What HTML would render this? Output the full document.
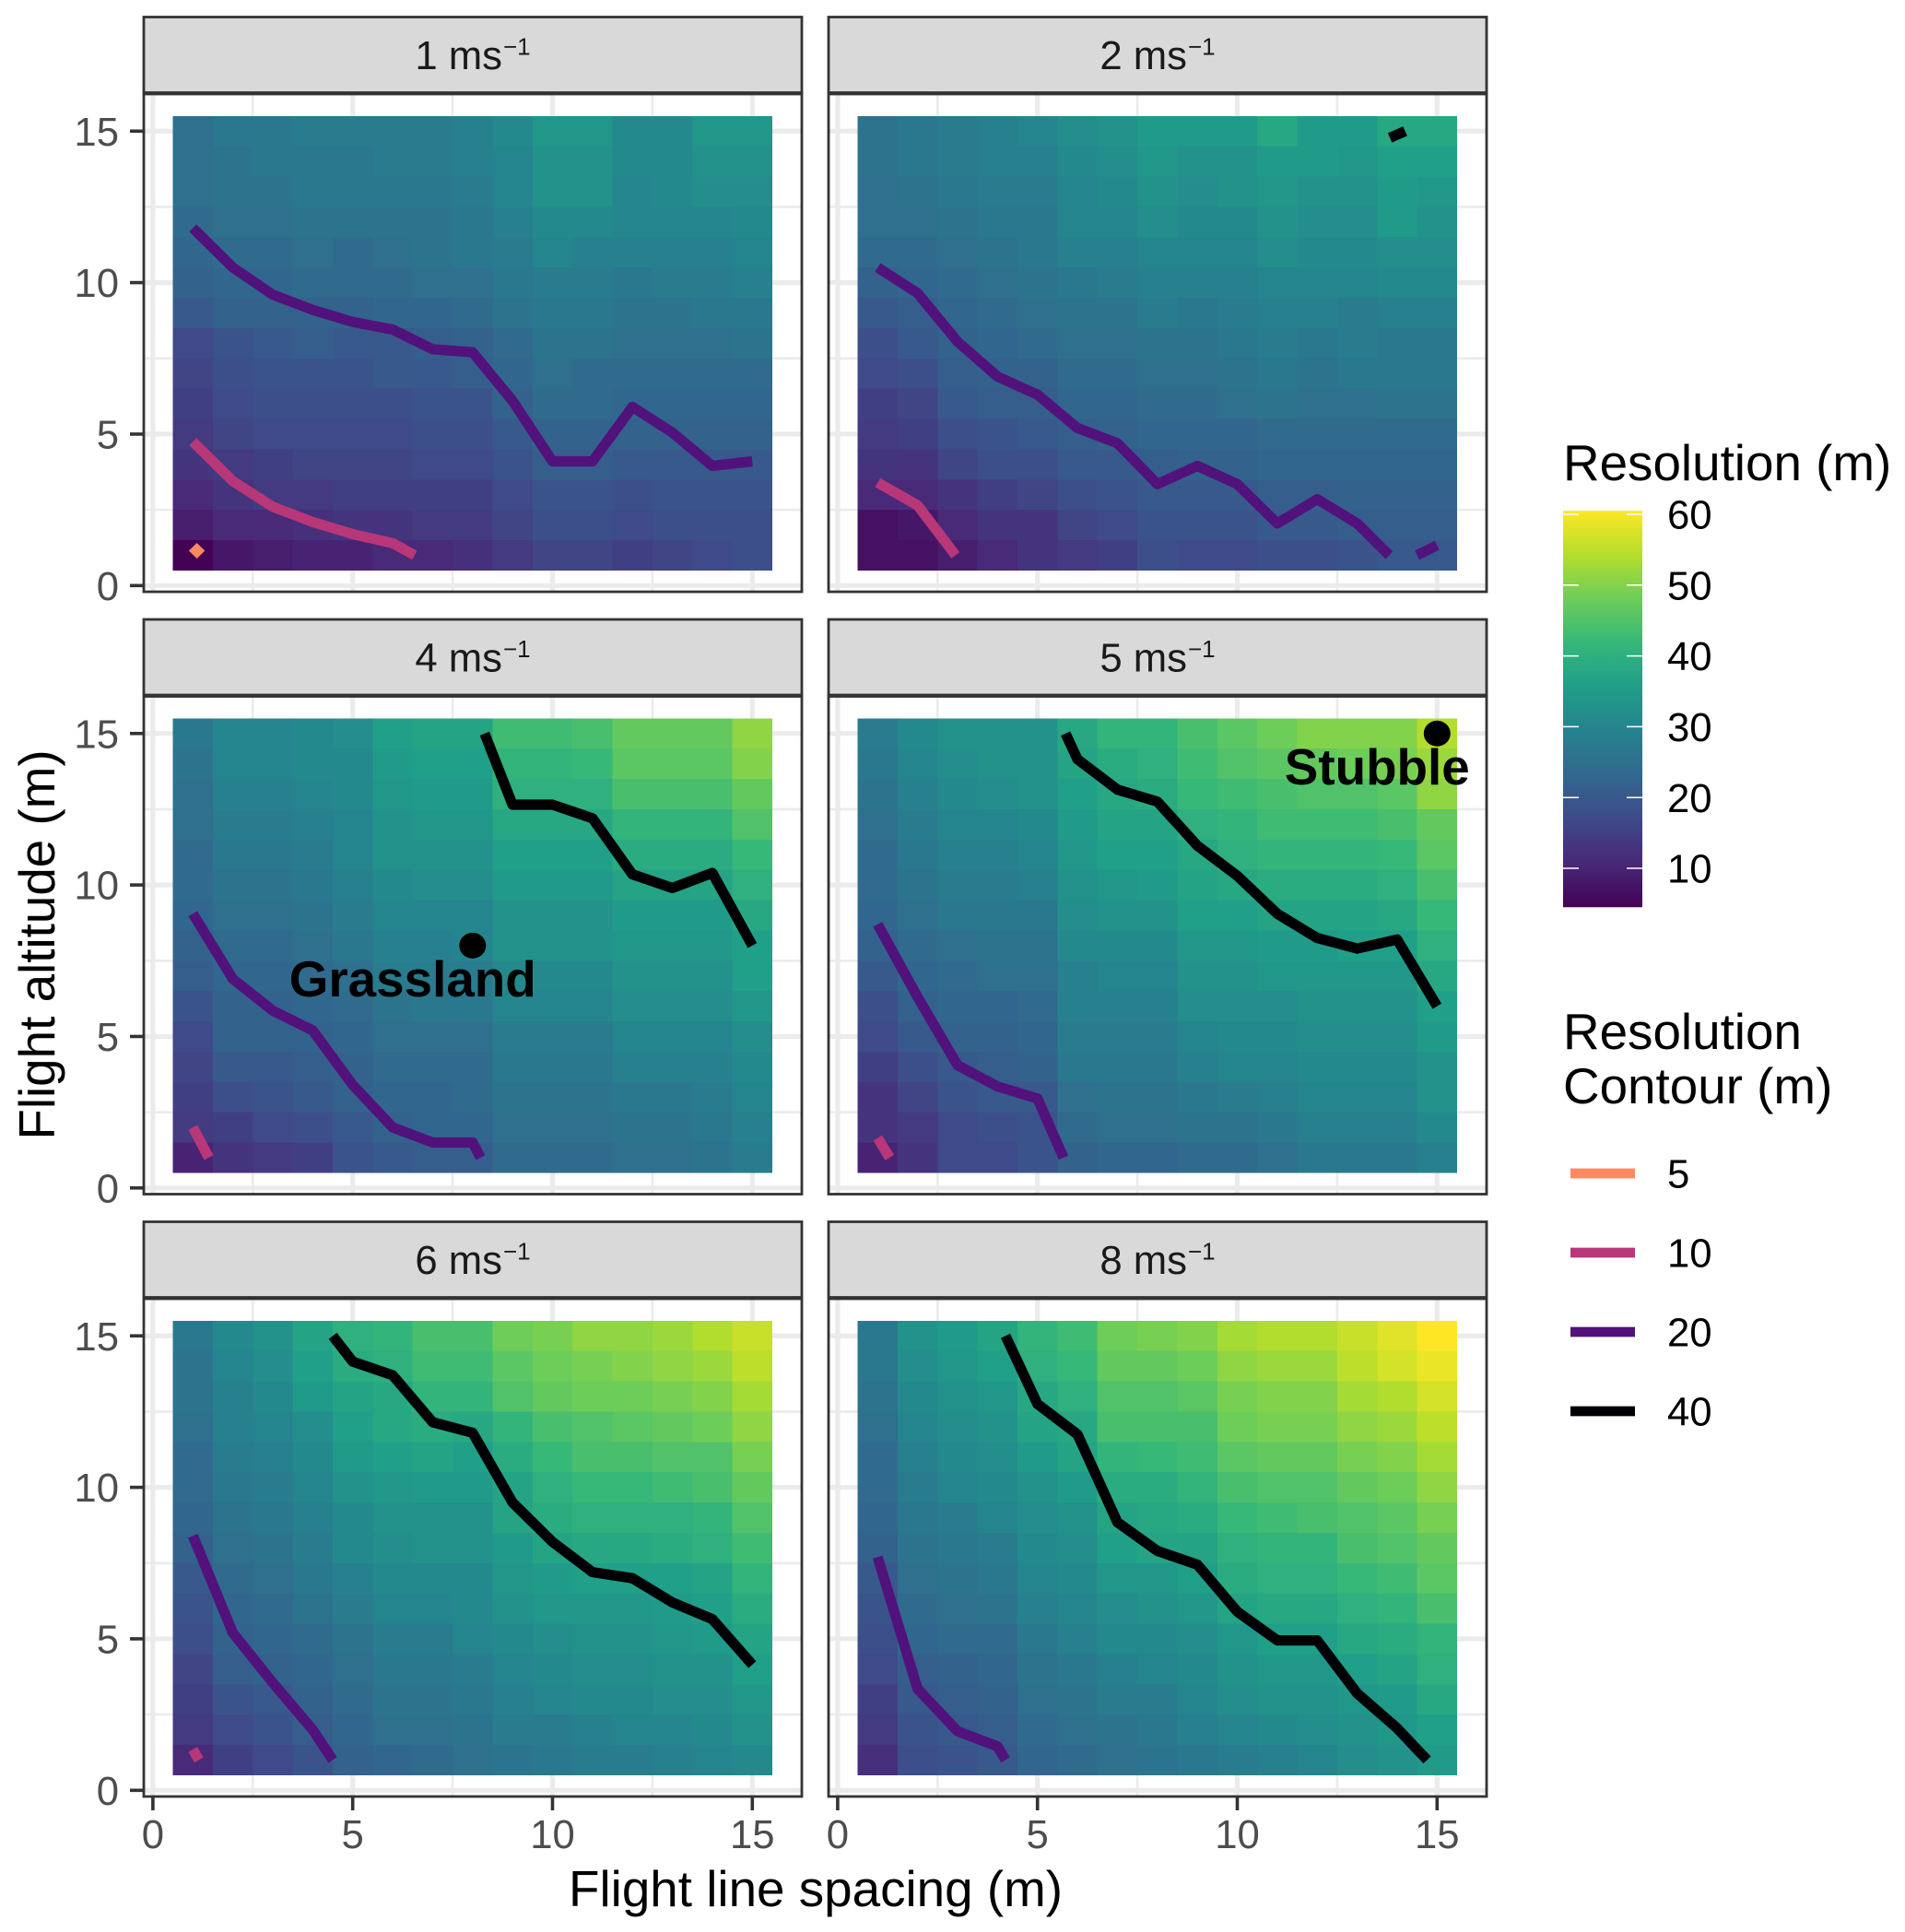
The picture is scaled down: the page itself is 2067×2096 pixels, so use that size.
<!DOCTYPE html>
<html lang="en">
<head>
<meta charset="utf-8">
<title>Resolution by flight line spacing and altitude</title>
<style>
html,body{margin:0;padding:0;background:#fff;}
svg{display:block;font-family:"Liberation Sans",Arial,sans-serif;}
</style>
</head>
<body>
<svg id="chart" xmlns="http://www.w3.org/2000/svg" width="2067" height="2096" viewBox="0 0 2067 2096">
  <defs>
    <linearGradient id="viridis-gradient" x1="0" y1="1" x2="0" y2="0">
      <stop offset="0" stop-color="#440154"/><stop offset="0.111" stop-color="#482878"/>
      <stop offset="0.222" stop-color="#3E4A89"/><stop offset="0.333" stop-color="#31688E"/>
      <stop offset="0.444" stop-color="#26828E"/><stop offset="0.556" stop-color="#1F9E89"/>
      <stop offset="0.667" stop-color="#35B779"/><stop offset="0.778" stop-color="#6DCD59"/>
      <stop offset="0.889" stop-color="#B4DE2C"/><stop offset="1" stop-color="#FDE725"/>
    </linearGradient>
  </defs>
  <text x="885" y="2068" font-size="54.8" text-anchor="middle" fill="#000">Flight line spacing (m)</text>
  <text transform="translate(59 1025) rotate(-90)" font-size="54.8" text-anchor="middle" fill="#000">Flight altitude (m)</text>
  <text x="1696" y="521" font-size="54.8" fill="#000">Resolution (m)</text>
  <text x="1696" y="1138" font-size="54.8" fill="#000">Resolution</text>
  <text x="1696" y="1197" font-size="54.8" fill="#000">Contour (m)</text>
</svg>
<script>
// ---------- chart data ----------
const windSpeeds = ['1', '2', '4', '5', '6', '8'];
const spacingTicks = [0, 5, 10, 15];
const altitudeTicks = [0, 5, 10, 15];
const minorBreaks = [2.5, 7.5, 12.5];
const spacings = [1,2,3,4,5,6,7,8,9,10,11,12,13,14,15];
const altitudesTopDown = [15,14,13,12,11,10,9,8,7,6,5,4,3,2,1];
const colorbarTicks = [10, 20, 30, 40, 50, 60];
const colorLimits = [4.5, 60.5];
const contourLevels = ['5', '10', '20', '40'];

const resolution1 = [
[25,27,27,28,28,28,28,29,31,34,34,31,31,34,34],
[25,26,27,27,27,28,28,29,30,33,33,31,31,33,33],
[25,26,26,27,27,27,27,28,30,33,33,30,31,32,32],
[24,25,25,26,26,26,26,27,29,31,31,30,30,30,31],
[23,24,24,25,24,25,26,27,28,30,29,29,29,29,30],
[22,23,23,24,24,24,25,25,27,28,28,27,28,28,29],
[20,22,22,22,22,23,23,24,26,27,27,26,26,27,27],
[17,19,20,21,20,20,21,22,24,26,26,25,25,25,26],
[16,18,19,19,19,20,20,21,23,25,24,24,24,24,24],
[15,17,18,18,18,18,19,19,22,24,24,23,23,23,23],
[14,16,17,17,17,17,18,18,20,22,22,22,22,22,22],
[13,14,15,16,16,16,17,17,19,21,21,20,20,20,20],
[11,13,14,14,15,15,15,15,17,19,19,18,19,19,19],
[9,11,11,12,13,13,14,14,16,18,18,17,18,18,18],
[4.6,8,9,10,10,11,11,12,14,16,16,15,16,17,18]];
const resolution2 = [
[26,27,28,29,30,32,33,35,35,35,38,35,35,38,38],
[26,27,28,29,29,31,32,34,33,33,35,35,34,36,36],
[25,26,27,28,28,30,31,33,32,33,34,33,33,35,34],
[25,25,26,27,27,30,30,32,31,31,33,32,32,35,33],
[24,24,25,26,27,29,29,30,30,30,32,31,31,32,32],
[22,23,24,25,26,27,28,29,29,29,30,30,30,31,31],
[20,21,23,24,25,26,26,28,27,28,29,29,28,29,29],
[18,20,22,23,24,25,25,26,26,27,28,27,28,27,27],
[17,18,21,22,22,24,24,25,25,26,27,26,27,27,27],
[15,16,20,21,21,23,23,24,24,25,26,25,25,26,26],
[14,15,18,19,20,21,22,23,23,23,24,24,24,24,24],
[13,13,16,18,18,20,20,21,22,22,23,23,23,23,23],
[11,11,13,15,16,18,19,20,20,20,21,21,22,22,22],
[7,8,11,13,13,16,17,19,19,19,20,20,21,21,21],
[7,7,9,11,13,14,15,18,17,17,18,18,19,20,20]];
const resolution4 = [
[27,30,30,31,32,36,37,37,43,43,44,47,47,47,51],
[26,30,30,31,31,35,36,36,41,41,42,46,46,46,50],
[25,29,29,30,31,34,35,35,40,40,40,44,44,44,47],
[25,28,28,29,30,33,34,34,38,38,38,41,41,41,45],
[24,27,27,28,30,33,33,33,36,36,36,39,39,39,42],
[24,26,26,27,29,31,32,32,35,35,35,37,37,37,40],
[23,25,25,26,28,30,30,30,33,33,33,35,35,35,38],
[22,24,24,25,27,29,29,30,33,33,33,34,34,34,36],
[21,23,23,24,25,28,28,28,31,31,31,33,33,33,36],
[19,22,22,23,24,26,27,27,30,30,30,32,32,32,34],
[17,22,22,22,23,25,25,25,28,28,28,30,30,30,32],
[16,20,20,21,22,24,24,24,27,27,27,29,29,29,31],
[15,18,19,20,22,23,23,24,26,26,26,27,27,28,30],
[14,15,17,18,20,22,23,23,25,25,25,26,26,27,29],
[10,13,14,15,19,20,21,21,24,24,24,25,25,26,28]];
const resolution5 = [
[28,31,33,33,33,38,41,41,44,46,48,50,50,50,54],
[27,30,32,33,33,37,39,40,43,45,46,47,48,49,52],
[26,29,31,32,33,36,38,39,42,43,44,45,45,46,51],
[25,28,30,30,31,35,37,37,40,41,43,43,43,44,47],
[24,27,29,29,30,34,36,36,38,40,41,41,41,42,46],
[24,26,28,28,29,33,34,35,37,38,39,39,39,40,44],
[23,25,27,27,27,32,33,33,36,36,37,37,37,38,42],
[22,24,25,26,26,31,31,31,34,34,35,35,36,36,40],
[20,23,24,25,25,29,30,30,33,33,34,34,34,34,38],
[18,22,23,23,24,29,29,29,32,32,32,33,33,33,36],
[17,20,22,22,23,28,28,28,30,31,31,32,32,32,35],
[15,18,20,21,22,27,27,27,29,30,30,31,31,31,33],
[13,16,19,20,20,25,26,26,27,28,29,30,30,30,33],
[13,14,17,18,19,24,25,25,26,26,27,29,29,29,31],
[10,13,17,17,19,22,23,23,24,24,25,27,27,27,29]];
const resolution6 = [
[27,31,33,37,40,41,44,44,48,49,51,51,52,54,56],
[26,30,32,36,39,40,43,43,46,48,49,50,51,52,55],
[26,29,31,35,37,38,41,41,45,47,48,48,49,50,53],
[25,29,30,32,36,38,39,38,41,44,45,46,47,48,51],
[24,28,29,31,35,36,37,36,39,42,44,44,45,45,49],
[24,27,28,30,33,34,35,35,37,40,42,42,43,44,47],
[23,26,27,29,31,33,33,33,37,39,40,40,40,41,45],
[22,25,26,28,31,32,33,33,35,37,38,38,39,40,43],
[20,24,25,27,29,31,31,31,34,35,36,36,36,37,41],
[19,23,24,26,28,30,30,31,33,34,34,34,35,36,39],
[18,22,23,24,26,28,28,30,31,32,33,33,34,35,37],
[16,21,22,23,25,27,27,28,30,31,32,32,33,33,36],
[15,19,20,22,24,26,26,27,29,30,31,31,32,32,34],
[14,17,19,21,23,25,25,26,28,28,29,30,30,31,33],
[11,15,17,19,22,23,24,25,26,27,28,28,29,30,31]];
const resolution8 = [
[27,33,35,37,41,43,48,49,50,53,54,54,56,58,60.5],
[27,32,34,36,40,42,47,47,48,51,52,52,55,57,59],
[26,31,33,34,38,40,45,45,46,49,50,50,53,54,57],
[25,30,32,33,37,38,44,44,44,48,49,49,51,52,55],
[24,29,31,32,35,37,41,42,43,46,47,47,49,50,53],
[24,28,30,31,33,35,39,39,41,44,45,45,47,48,51],
[23,27,28,30,32,33,37,38,39,42,43,44,45,46,49],
[22,26,27,28,31,32,36,37,37,40,41,41,44,45,47],
[20,25,26,27,30,31,34,34,36,39,40,40,42,43,46],
[19,24,25,26,29,30,32,33,34,37,38,38,40,41,44],
[18,23,24,24,27,29,31,31,32,34,36,36,38,39,41],
[17,21,22,23,26,27,29,30,31,33,34,34,36,37,40],
[15,20,21,22,25,26,28,28,30,32,33,33,34,35,38],
[14,19,20,21,24,25,26,27,29,30,31,32,33,34,36],
[12,18,19,20,23,24,25,26,27,28,29,30,32,33,35]];
const resolutionBySpeed = [resolution1, resolution2, resolution4, resolution5, resolution6, resolution8];

// contours: [level, [[spacing, altitude], ...]]
const contours1 = [
 ['10',[[1,4.75],[2,3.45],[3,2.6],[4,2.1],[5,1.7],[6,1.4],[6.55,1]]],
 ['20',[[1,11.8],[2,10.5],[3,9.6],[4,9.1],[5,8.7],[6,8.45],[7,7.8],[8,7.7],[9,6.1],[10,4.1],[11,4.1],[12,5.9],[13,5.05],[14,3.95],[15,4.1]]]];
const contours2 = [
 ['10',[[1,3.4],[2,2.65],[2.95,1]]],
 ['20',[[1,10.5],[2,9.65],[3,8.05],[4,6.9],[5,6.3],[6,5.2],[7,4.7],[8,3.35],[9,3.95],[10,3.35],[11,2.05],[12,2.85],[13,2.05],[13.8,1]]],
 ['20',[[14.5,1],[15,1.33]]],
 ['40',[[13.82,14.78],[14.2,15]]]];
const contours4 = [
 ['10',[[1,2],[1.4,1]]],
 ['20',[[1,9.05],[2,6.9],[3,5.85],[4,5.2],[5,3.4],[6,2],[7,1.5],[8,1.5],[8.2,1]]],
 ['40',[[8.3,15],[9,12.65],[10,12.65],[11,12.2],[12,10.35],[13,9.9],[14,10.4],[15,8]]]];
const contours5 = [
 ['10',[[1,1.65],[1.3,1]]],
 ['20',[[1,8.7],[2,6.3],[3,4.05],[4,3.35],[5,2.95],[5.65,1]]],
 ['40',[[5.7,15],[6,14.15],[7,13.15],[8,12.75],[9,11.3],[10,10.3],[11,9.05],[12,8.25],[13,7.9],[14,8.2],[15,6]]]];
const contours6 = [
 ['10',[[1,1.35],[1.15,1]]],
 ['20',[[1,8.4],[2,5.2],[3,3.55],[4,2],[4.5,1]]],
 ['40',[[4.5,15],[5,14.15],[6,13.7],[7,12.15],[8,11.8],[9,9.5],[10,8.2],[11,7.2],[12,7],[13,6.2],[14,5.65],[15,4.15]]]];
const contours8 = [
 ['20',[[1,7.7],[2,3.35],[3,1.95],[4,1.45],[4.2,1]]],
 ['40',[[4.2,15],[5,12.75],[6,11.75],[7,8.85],[8,7.9],[9,7.45],[10,5.9],[11,4.95],[12,4.95],[13,3.2],[14,2.05],[14.75,1]]]];
const contoursBySpeed = [contours1, contours2, contours4, contours5, contours6, contours8];
const fiveMetreContour = [[1.1,1.41],[1.3,1.15],[1.1,0.89],[0.9,1.15]];

// annotated sites: panel index, spacing, altitude, label, label spacing, label altitude
const siteLabels = ['Grassland', 'Stubble'];
const sitePanels = [2, 3];
const siteSpacing = [8, 15];
const siteAltitude = [8, 15];
const siteLabelSpacing = [6.5, 13.5];
const siteLabelAltitude = [7, 14];

// ---------- layout and scales ----------
const SVGNS = 'http://www.w3.org/2000/svg';
const svg = document.getElementById('chart');
const columnLeft = [156, 899];
const rowTop = [18.5, 672, 1325.5];
const panelWidth = 714;
const stripHeight = 82;
const panelHeight = 623.5;
const contourColors = {'5':'#FC8961', '10':'#B73779', '20':'#51127C', '40':'#000004'};
const viridisStops = ['#440154','#482878','#3E4A89','#31688E','#26828E','#1F9E89','#35B779','#6DCD59','#B4DE2C','#FDE725'];

function xScale(col, v) { return columnLeft[col] + 9.9 + v * 43.36; }
function yScale(row, v) { return rowTop[row] + 616.8 - v * 32.87; }
function legendY(v) { return 942 - (v - 10) * 7.68; }
function make(tag, parent, attrs) {
  const el = document.createElementNS(SVGNS, tag);
  for (const k in attrs) el.setAttribute(k, attrs[k]);
  parent.appendChild(el);
  return el;
}
function hexToRgb(h) { return [1,3,5].map(i => parseInt(h.substr(i,2),16)); }
function viridis(v) {
  const t = Math.max(0, Math.min(1, (v - colorLimits[0]) / (colorLimits[1] - colorLimits[0]))) * (viridisStops.length - 1);
  const i = Math.min(Math.floor(t), viridisStops.length - 2);
  const a = hexToRgb(viridisStops[i]), b = hexToRgb(viridisStops[i + 1]), f = t - i;
  return 'rgb(' + a.map((c, k) => Math.round(c + (b[k] - c) * f)).join(',') + ')';
}
function pointsString(col, row, pts) {
  return pts.map(p => xScale(col, p[0]).toFixed(1) + ',' + yScale(row, p[1]).toFixed(1)).join(' ');
}

// ---------- panels ----------
windSpeeds.forEach(function (speed, index) {
  const col = index % 2;
  const row = Math.floor(index / 2);
  const left = columnLeft[col];
  const top = rowTop[row];
  const bodyTop = top + stripHeight + 1.5;
  const bottom = top + panelHeight;
  const right = left + panelWidth;

  const group = make('g', svg, {});
  
  

  const bg = make('rect', group, {x: left, y: bodyTop, width: panelWidth, height: bottom - bodyTop, fill: '#fff'});
  
  

  minorBreaks.forEach(function (b) {
    const gx = make('line', group, {x1: xScale(col, b), x2: xScale(col, b), y1: bodyTop, y2: bottom, stroke: '#EBEBEB', 'stroke-width': 2.6});
    
    
    const gy = make('line', group, {x1: left, x2: right, y1: yScale(row, b), y2: yScale(row, b), stroke: '#EBEBEB', 'stroke-width': 2.6});
    
    
  });
  spacingTicks.forEach(function (b) {
    const gx = make('line', group, {x1: xScale(col, b), x2: xScale(col, b), y1: bodyTop, y2: bottom, stroke: '#EBEBEB', 'stroke-width': 5.2});
    
    
  });
  altitudeTicks.forEach(function (b) {
    const gy = make('line', group, {x1: left, x2: right, y1: yScale(row, b), y2: yScale(row, b), stroke: '#EBEBEB', 'stroke-width': 5.2});
    
    
  });

  // heatmap
  const cells = make('g', group, {'shape-rendering': 'crispEdges'});
  
  
  resolutionBySpeed[index].forEach(function (rowValues, r) {
    rowValues.forEach(function (value, c) {
      const x0 = xScale(col, spacings[c] - 0.5), x1 = xScale(col, spacings[c] + 0.5);
      const y0 = yScale(row, altitudesTopDown[r] + 0.5), y1 = yScale(row, altitudesTopDown[r] - 0.5);
      const cell = make('rect', cells, {x: x0.toFixed(2), y: y0.toFixed(2), width: (x1 - x0).toFixed(2), height: (y1 - y0).toFixed(2), fill: viridis(value)});
      
      
    });
  });

  // contours
  contoursBySpeed[index].forEach(function (entry) {
    const line = make('polyline', group, {points: pointsString(col, row, entry[1]), fill: 'none', stroke: contourColors[entry[0]], 'stroke-width': 11.2, 'stroke-linejoin': 'round', 'stroke-linecap': 'butt'});
    
    
  });
  if (index === 0) {
    const diamond = make('polygon', group, {points: pointsString(col, row, fiveMetreContour), fill: contourColors['5']});
    
    
  }

  // site annotations
  sitePanels.forEach(function (panel, s) {
    if (panel !== index) return;
    const dot = make('ellipse', group, {cx: xScale(col, siteSpacing[s]), cy: yScale(row, siteAltitude[s]), rx: 14.5, ry: 14, fill: '#000'});
    
    
    const label = make('text', group, {x: xScale(col, siteLabelSpacing[s]), y: yScale(row, siteLabelAltitude[s]) + 22.5, 'font-size': 54.8, 'font-weight': 'bold', 'text-anchor': 'middle', fill: '#000'});
    label.textContent = siteLabels[s];
    
    
  });

  // panel border
  const border = make('rect', group, {x: left, y: bodyTop, width: panelWidth, height: bottom - bodyTop, fill: 'none', stroke: '#333333', 'stroke-width': 2.8});
  
  

  // strip
  const strip = make('rect', group, {x: left, y: top, width: panelWidth, height: stripHeight, fill: '#D9D9D9', stroke: '#333333', 'stroke-width': 2.8});
  
  
  const stripText = make('text', group, {x: left + panelWidth / 2, y: top + stripHeight / 2 + 15.6, 'font-size': 43.7, 'text-anchor': 'middle', fill: '#1A1A1A'});
  
  
  stripText.appendChild(document.createTextNode(speed + ' ms'));
  const sup = make('tspan', stripText, {'font-size': 26, dy: -15.5, dx: 1});
  sup.textContent = '\u22121';

  // y axis
  if (col === 0) {
    altitudeTicks.forEach(function (tick) {
      const y = yScale(row, tick);
      const mark = make('line', group, {x1: left - 15, x2: left, y1: y, y2: y, stroke: '#333333', 'stroke-width': 3.6});
      
      
      const txt = make('text', group, {x: 129, y: y + 15.6, 'font-size': 43.7, 'text-anchor': 'end', fill: '#4D4D4D'});
      txt.textContent = String(tick);
      
      
    });
  }
  // x axis
  if (row === 2) {
    spacingTicks.forEach(function (tick) {
      const x = xScale(col, tick);
      const mark = make('line', group, {x1: x, x2: x, y1: bottom, y2: bottom + 15, stroke: '#333333', 'stroke-width': 3.6});
      
      
      const txt = make('text', group, {x: x, y: 2005, 'font-size': 43.7, 'text-anchor': 'middle', fill: '#4D4D4D'});
      txt.textContent = String(tick);
      
      
    });
  }
});

// ---------- colour bar legend ----------
const colorbar = make('g', svg, {});


const barTop = legendY(colorLimits[1]);
const barBottom = legendY(colorLimits[0]);
const bar = make('rect', colorbar, {x: 1696, y: barTop, width: 86, height: barBottom - barTop, fill: 'url(#viridis-gradient)'});


colorbarTicks.forEach(function (tick) {
  const y = legendY(tick);
  const a = make('line', colorbar, {x1: 1696, x2: 1713, y1: y, y2: y, stroke: '#fff', 'stroke-width': 1.5});
  
  
  const b = make('line', colorbar, {x1: 1765, x2: 1782, y1: y, y2: y, stroke: '#fff', 'stroke-width': 1.5});
  
  
  const t = make('text', colorbar, {x: 1809, y: y + 15.6, 'font-size': 43.7, fill: '#000'});
  t.textContent = String(tick);
  
  
});

// ---------- contour legend ----------
const contourLegend = make('g', svg, {});


contourLevels.forEach(function (level, i) {
  const y = 1273 + i * 86;
  const key = make('line', contourLegend, {x1: 1704, x2: 1774, y1: y, y2: y, stroke: contourColors[level], 'stroke-width': 10.7});
  
  
  const t = make('text', contourLegend, {x: 1809, y: y + 15.6, 'font-size': 43.7, fill: '#000'});
  t.textContent = level;
  
  
});
</script>
</body>
</html>
